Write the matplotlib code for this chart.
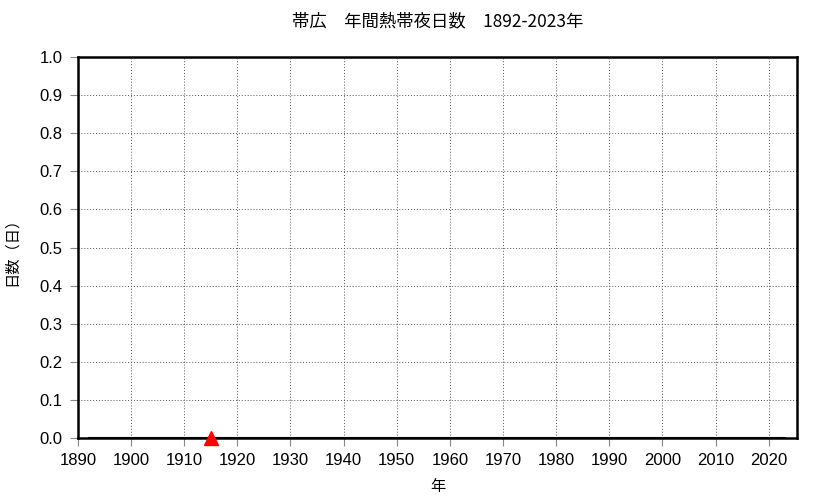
import numpy as np
import matplotlib.pyplot as plt

plt.rcParams['font.family'] = ['Liberation Sans', 'Noto Sans CJK JP', 'DejaVu Sans']

# annual number of tropical nights at Obihiro (all zero)
years = list(range(1892, 2024))
nights = [0] * len(years)
# marked year
mark_year = [1915]
mark_val = [0]

fig = plt.figure(figsize=(8.33, 4.98), dpi=100)
ax = fig.add_axes([0.0936, 0.1205, 0.863, 0.765])

ax.plot(years, nights, color='black', lw=1.5, zorder=3)
ax.plot(mark_year, mark_val, marker='^', color='red', markersize=10,
        linestyle='none', zorder=4, clip_on=False)

ax.set_xlim(1890, 2025.3)
ax.set_ylim(0, 1.0)
ax.set_xticks(range(1890, 2021, 10))
ax.set_yticks(np.arange(0, 1.01, 0.1))
ax.set_yticklabels(['%.1f' % v for v in np.arange(0, 1.01, 0.1)])
ax.grid(True, linestyle=(0, (1, 2)), color='#555555', lw=0.7)
ax.tick_params(direction='out', length=6, color='#888888', labelsize=12, pad=5)
for s in ax.spines.values():
    s.set_linewidth(1.8)

ax.set_title('帯広　年間熱帯夜日数　1892-2023年', family=['Noto Sans CJK JP'],
             fontsize=12.5, pad=22)
ax.set_xlabel('年', family=['Noto Sans CJK JP'], fontsize=11, labelpad=7)
ax.set_ylabel('日数（日）', family=['Noto Sans CJK JP'], fontsize=11, labelpad=14)

plt.savefig('out.png', dpi=100)
plt.close()
